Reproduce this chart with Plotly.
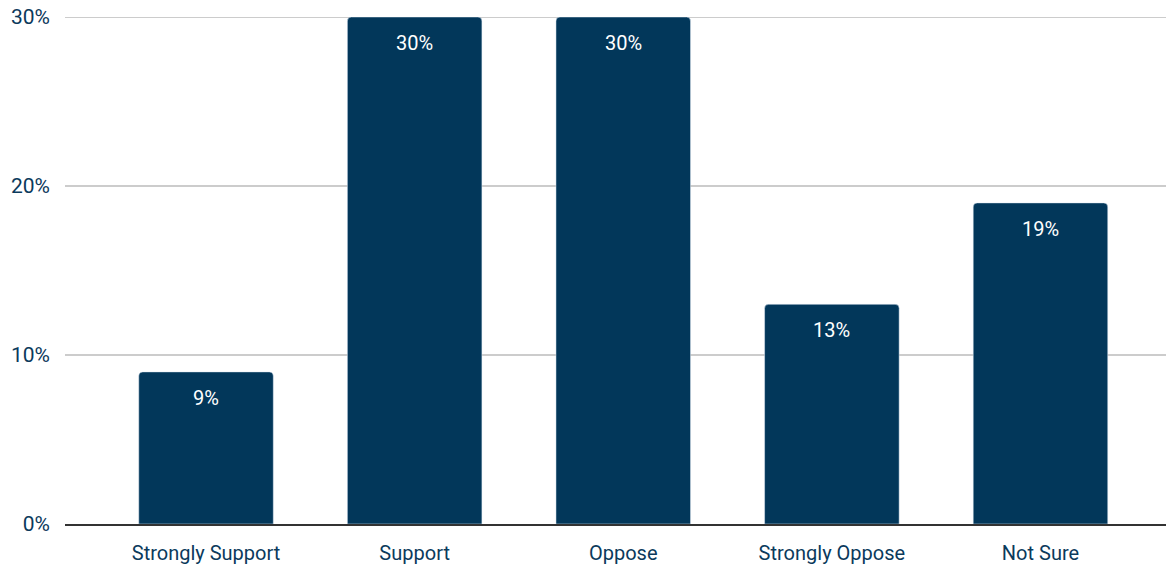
import plotly.graph_objects as go

categories = ["Strongly Support", "Support", "Oppose", "Strongly Oppose", "Not Sure"]
values = [9, 30, 30, 13, 19]
labels = ["9%", "30%", "30%", "13%", "19%"]
tick_vals = [0, 10, 20, 30]
tick_text = ["0%", "10%", "20%", "30%"]

BAR = "#02375a"
TXT = "#0b3a5c"
GRID = "#cccccc"
FONT = "Liberation Sans Narrow, Roboto, Arial, sans-serif"

fig = go.Figure(go.Bar(
    x=list(range(len(categories))), y=values, marker_color=BAR,
    width=0.645, hoverinfo="skip",
))
for i, (v, t) in enumerate(zip(values, labels)):
    fig.add_annotation(x=i, y=v, text=t, showarrow=False, yanchor="middle",
                       yshift=-26, font=dict(color="white", size=20, family=FONT))

# top gridline (plotly drops the grid line at the range edge)
fig.add_shape(type="line", xref="paper", x0=0, x1=1, yref="y",
              y0=tick_vals[-1], y1=tick_vals[-1],
              line=dict(color=GRID, width=2), layer="below")

fig.update_layout(
    width=1166, height=561,
    margin=dict(l=57, r=0, t=9, b=45, autoexpand=False),
    paper_bgcolor="white", plot_bgcolor="white",
    showlegend=False, barcornerradius=4,
    font=dict(family=FONT, color=TXT, size=20),
)
fig.update_xaxes(
    range=[-0.676, 4.64], tickmode="array", automargin=False,
    tickvals=list(range(len(categories))), ticktext=categories,
    showgrid=False, showline=True, linecolor="#333333", linewidth=2,
    ticks="", ticklabelstandoff=10, ticklabeloverflow="allow",
    tickfont=dict(size=20, color=TXT, family=FONT), fixedrange=True,
)
fig.update_yaxes(
    range=[0, 30], tickmode="array", tickvals=tick_vals, ticktext=tick_text, automargin=False,
    showgrid=True, gridcolor=GRID, gridwidth=2, zeroline=False,
    ticks="", ticklabelstandoff=14, ticklabeloverflow="allow",
    tickfont=dict(size=21, color=TXT, family=FONT),
    fixedrange=True,
)
fig.write_html("out.html")
